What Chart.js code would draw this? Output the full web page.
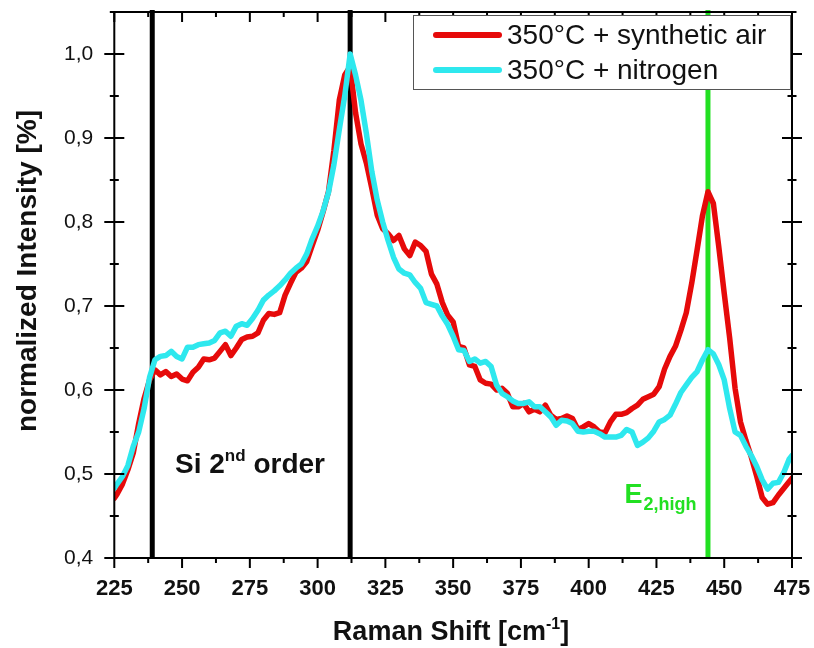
<!DOCTYPE html>
<html>
<head>
<meta charset="utf-8">
<title>Raman spectra</title>
<script src="https://cdn.jsdelivr.net/npm/chart.js@4.4.1/dist/chart.umd.min.js"></script>
<style>
  html, body { margin: 0; padding: 0; background: #ffffff; }
  #wrap { width: 814px; height: 648px; }
</style>
</head>
<body>
<div id="wrap"><canvas id="raman" width="814" height="648"></canvas></div>
<script>
// Raman shift grid [cm-1]
const ramanShift = [
  225, 226, 228, 230, 232, 234, 236, 238, 240, 242, 244, 246, 248, 250, 252, 254, 256, 258, 260, 262,
  264, 266, 268, 270, 272, 274, 276, 278, 280, 282, 284, 286, 288, 290, 292, 294, 296, 298, 300, 302,
  304, 306, 308, 310, 312, 314, 316, 318, 320, 322, 324, 326, 328, 330, 332, 334, 336, 338, 340, 342,
  344, 346, 348, 350, 352, 354, 356, 358, 360, 362, 364, 366, 368, 370, 372, 374, 376, 378, 380, 382,
  384, 386, 388, 390, 392, 394, 396, 398, 400, 402, 404, 406, 408, 410, 412, 414, 416, 418, 420, 422,
  424, 426, 428, 430, 432, 434, 436, 438, 440, 442, 444, 446, 448, 450, 452, 454, 456, 458, 460, 462,
  464, 466, 468, 470, 472, 474, 475
];

// normalized intensity, annealed at 350 °C in synthetic air
const airIntensity = [
  0.471, 0.476, 0.488, 0.505, 0.525, 0.560, 0.590, 0.612, 0.624, 0.618, 0.622, 0.616, 0.619, 0.613, 0.611, 0.621, 0.627, 0.637, 0.636, 0.638,
  0.646, 0.654, 0.641, 0.650, 0.660, 0.663, 0.664, 0.668, 0.683, 0.691, 0.690, 0.692, 0.713, 0.727, 0.740, 0.745, 0.753, 0.772, 0.790, 0.812,
  0.836, 0.885, 0.945, 0.975, 0.985, 0.930, 0.893, 0.870, 0.840, 0.808, 0.792, 0.786, 0.778, 0.784, 0.768, 0.760, 0.776, 0.772, 0.765, 0.738,
  0.726, 0.704, 0.689, 0.681, 0.652, 0.650, 0.630, 0.628, 0.612, 0.608, 0.607, 0.600, 0.602, 0.596, 0.580, 0.580, 0.584, 0.574, 0.577, 0.574,
  0.582, 0.570, 0.565, 0.566, 0.569, 0.566, 0.553, 0.556, 0.560, 0.556, 0.550, 0.549, 0.562, 0.571, 0.571, 0.573, 0.578, 0.582, 0.589, 0.592,
  0.595, 0.604, 0.625, 0.640, 0.652, 0.671, 0.692, 0.727, 0.767, 0.808, 0.836, 0.822, 0.770, 0.715, 0.662, 0.602, 0.562, 0.540, 0.520, 0.497,
  0.472, 0.464, 0.466, 0.475, 0.483, 0.491, 0.495
];

// normalized intensity, annealed at 350 °C in nitrogen
const nitrogenIntensity = [
  0.483, 0.488, 0.497, 0.510, 0.533, 0.550, 0.578, 0.615, 0.636, 0.640, 0.641, 0.646, 0.640, 0.637, 0.651, 0.651, 0.654, 0.655, 0.656, 0.659,
  0.668, 0.670, 0.664, 0.676, 0.679, 0.677, 0.685, 0.695, 0.707, 0.713, 0.718, 0.724, 0.731, 0.739, 0.745, 0.750, 0.762, 0.780, 0.795, 0.813,
  0.835, 0.868, 0.910, 0.950, 1.000, 0.975, 0.945, 0.905, 0.860, 0.826, 0.800, 0.778, 0.758, 0.744, 0.739, 0.737, 0.728, 0.721, 0.704, 0.702,
  0.700, 0.688, 0.678, 0.664, 0.648, 0.647, 0.634, 0.637, 0.632, 0.634, 0.628, 0.606, 0.596, 0.592, 0.587, 0.584, 0.584, 0.586, 0.580, 0.580,
  0.574, 0.568, 0.558, 0.564, 0.563, 0.560, 0.551, 0.550, 0.551, 0.551, 0.548, 0.544, 0.544, 0.544, 0.546, 0.553, 0.550, 0.534, 0.538, 0.543,
  0.551, 0.562, 0.565, 0.570, 0.583, 0.597, 0.606, 0.615, 0.622, 0.636, 0.648, 0.643, 0.630, 0.612, 0.578, 0.550, 0.546, 0.533, 0.522, 0.509,
  0.493, 0.482, 0.489, 0.490, 0.502, 0.518, 0.522
];

const seriesLabels = ['350°C + synthetic air', '350°C + nitrogen'];

// Si second-order band limits and the ZnO E2(high) mode position [cm-1]
const siBandShifts = [239, 312];
const e2HighShift = 444;

// axis ticks
const xTickValues = [225, 250, 275, 300, 325, 350, 375, 400, 425, 450, 475];
const yTickValues = [0.4, 0.5, 0.6, 0.7, 0.8, 0.9, 1.0];

const FONT = "'Liberation Sans', Arial, Helvetica, sans-serif";
const RED = '#e60a0a';
const CYAN = '#2ee8ee';
const GREEN = '#22e022';

function points(values) {
  return ramanShift.map((x, i) => ({ x: x, y: values[i] }));
}

// vertical marker lines behind the spectra
const markerLines = {
  id: 'markerLines',
  beforeDatasetsDraw(chart) {
    const { ctx, chartArea, scales } = chart;
    ctx.save();
    ctx.lineWidth = 5;
    ctx.lineCap = 'butt';
    const draw = (v, color) => {
      const px = scales.x.getPixelForValue(v);
      ctx.strokeStyle = color;
      ctx.beginPath();
      ctx.moveTo(px, chartArea.top - 2);
      ctx.lineTo(px, chartArea.bottom);
      ctx.stroke();
    };
    siBandShifts.forEach(v => draw(v, '#000000'));
    draw(e2HighShift, GREEN);
    ctx.restore();
  }
};

// frame with mirrored axes, crossing ticks, labels and legend
const frame = {
  id: 'frame',
  afterDraw(chart) {
    const { ctx, chartArea: a, scales } = chart;
    const xs = scales.x, ys = scales.y;
    ctx.save();

    // axis box
    ctx.strokeStyle = '#000';
    ctx.lineWidth = 2;
    ctx.beginPath();
    ctx.moveTo(a.left, a.top); ctx.lineTo(a.right, a.top);
    ctx.moveTo(a.left, a.bottom); ctx.lineTo(a.right, a.bottom);
    ctx.moveTo(a.left, a.top); ctx.lineTo(a.left, a.bottom);
    ctx.moveTo(a.right, a.top); ctx.lineTo(a.right, a.bottom);
    ctx.stroke();

    // x ticks: major every 25, minor between
    ctx.beginPath();
    for (let v = xs.min; v <= xs.max + 0.001; v += 12.5) {
      const px = xs.getPixelForValue(v);
      const major = Math.abs((v - xs.min) % 25) < 0.001;
      const len = major ? 10 : 5;
      ctx.moveTo(px, a.bottom); ctx.lineTo(px, a.bottom + len);
      ctx.moveTo(px, a.top); ctx.lineTo(px, a.top + len);
    }
    // y ticks: major every 0.1, minor every 0.05, crossing both side axes
    for (let k = 0; k * 0.05 <= ys.max - ys.min + 1e-6; k++) {
      const v = ys.min + k * 0.05;
      const py = ys.getPixelForValue(v);
      const len = (k % 2 === 0) ? 10 : 4.5;
      ctx.moveTo(a.left - len, py); ctx.lineTo(a.left + len, py);
      ctx.moveTo(a.right - len, py); ctx.lineTo(a.right + len, py);
    }
    ctx.stroke();

    // axis titles
    ctx.fillStyle = '#111';
    ctx.textBaseline = 'alphabetic';
    // x title with superscript
    const big = 'bold 27px ' + FONT, small = 'bold 16px ' + FONT;
    const p1 = 'Raman Shift [cm', p2 = '-1', p3 = ']';
    ctx.font = big; const w1 = ctx.measureText(p1).width, w3 = ctx.measureText(p3).width;
    ctx.font = small; const w2 = ctx.measureText(p2).width;
    let tx = 451 - (w1 + w2 + w3) / 2;
    const ty = 640;
    ctx.textAlign = 'left';
    ctx.font = big; ctx.fillText(p1, tx, ty); tx += w1;
    ctx.font = small; ctx.fillText(p2, tx, ty - 11); tx += w2;
    ctx.font = big; ctx.fillText(p3, tx, ty);

    // y title
    ctx.save();
    ctx.translate(36, 271);
    ctx.rotate(-Math.PI / 2);
    ctx.textAlign = 'center';
    ctx.font = 'bold 28px ' + FONT;
    ctx.fillText('normalized Intensity [%]', 0, 0);
    ctx.restore();

    // "Si 2nd order" label
    ctx.textAlign = 'left';
    let sx = xs.getPixelForValue(247.4);
    const sy = ys.getPixelForValue(0.501);
    const siParts = [['Si 2', 'bold 28px ', 0], ['nd', 'bold 17px ', -12], [' order', 'bold 28px ', 0]];
    siParts.forEach(([t, f, dy]) => {
      ctx.font = f + FONT;
      ctx.fillText(t, sx, sy + dy);
      sx += ctx.measureText(t).width;
    });

    // E2,high label
    ctx.fillStyle = GREEN;
    let ex = xs.getPixelForValue(413.2);
    const ey = ys.getPixelForValue(0.465);
    ctx.font = 'bold 27px ' + FONT;
    ctx.fillText('E', ex, ey);
    ex += ctx.measureText('E').width + 1;
    ctx.font = 'bold 18px ' + FONT;
    ctx.fillText('2,high', ex, ey + 7);

    // legend
    const lx = 413.5, ly = 15.5, lw = 377, lh = 74;
    ctx.fillStyle = '#fff';
    ctx.fillRect(lx, ly, lw, lh);
    ctx.strokeStyle = '#555';
    ctx.lineWidth = 1;
    ctx.strokeRect(lx, ly, lw, lh);
    chart.data.datasets.forEach((ds, i) => {
      const yy = 35 + i * 35;
      ctx.strokeStyle = ds.borderColor;
      ctx.lineWidth = 6;
      ctx.lineCap = 'round';
      ctx.beginPath();
      ctx.moveTo(436, yy); ctx.lineTo(499, yy);
      ctx.stroke();
      ctx.fillStyle = '#111';
      ctx.font = '28px ' + FONT;
      ctx.textBaseline = 'middle';
      ctx.fillText(ds.label, 507, yy + 1);
    });
    ctx.restore();
  }
};

new Chart(document.getElementById('raman'), {
  type: 'line',
  data: {
    datasets: [
      {
        label: seriesLabels[0],
        data: points(airIntensity),
        borderColor: RED,
        borderWidth: 5.5,
        pointRadius: 0,
        tension: 0,
        borderJoinStyle: 'round',
        borderCapStyle: 'round',
        order: 1
      },
      {
        label: seriesLabels[1],
        data: points(nitrogenIntensity),
        borderColor: CYAN,
        borderWidth: 5.5,
        pointRadius: 0,
        tension: 0,
        borderJoinStyle: 'round',
        borderCapStyle: 'round',
        order: 0
      }
    ]
  },
  options: {
    responsive: false,
    animation: false,
    events: [],
    layout: { padding: { left: 0, top: 12, right: 22, bottom: 0 } },
    plugins: { legend: { display: false }, tooltip: { enabled: false } },
    scales: {
      x: {
        type: 'linear',
        min: 225,
        max: 475,
        afterBuildTicks(s) { s.ticks = xTickValues.map(v => ({ value: v })); },
        afterFit(s) { s.height = 90; s.paddingLeft = 0; s.paddingRight = 0; },
        ticks: {
          maxRotation: 0,
          autoSkip: false,
          padding: 8,
          color: '#111',
          font: { family: FONT, size: 22, weight: 'bold' }
        },
        grid: { drawOnChartArea: false, tickLength: 10, tickColor: 'rgba(0,0,0,0)' },
        border: { display: false }
      },
      y: {
        type: 'linear',
        min: 0.4,
        max: 1.05,
        afterBuildTicks(s) { s.ticks = yTickValues.map(v => ({ value: v })); },
        afterFit(s) { s.width = 114.3; s.paddingTop = 0; s.paddingBottom = 0; },
        ticks: {
          padding: 11,
          color: '#111',
          font: { family: FONT, size: 21 },
          callback: v => v.toFixed(1).replace('.', ',')
        },
        grid: { drawOnChartArea: false, tickLength: 10, tickColor: 'rgba(0,0,0,0)' },
        border: { display: false }
      }
    }
  },
  plugins: [markerLines, frame]
});
</script>
</body>
</html>
